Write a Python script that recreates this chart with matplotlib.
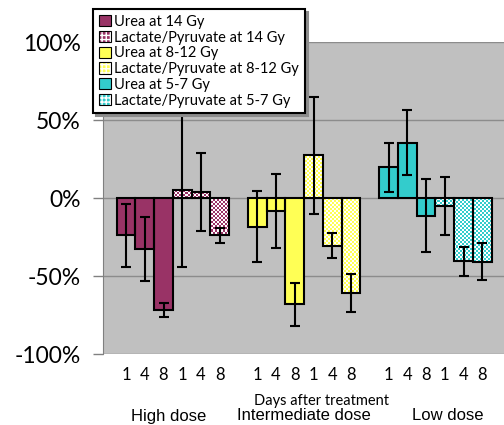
import matplotlib
matplotlib.use("Agg")
import matplotlib.pyplot as plt
import matplotlib.ticker as mtick
import numpy as np

# values, percent change
days = ["1", "4", "8"]
doses = ["High dose", "Intermediate dose", "Low dose"]
labels = ["Urea at 14 Gy", "Lactate/Pyruvate at 14 Gy",
          "Urea at 8-12 Gy", "Lactate/Pyruvate at 8-12 Gy",
          "Urea at 5-7 Gy", "Lactate/Pyruvate at 5-7 Gy"]
urea_14 = [-24, -32.5, -71.5]
urea_14_err = [20.5, 20.5, 4.5]
lp_14 = [5, 4, -24]
lp_14_err = [49.5, 25, 4.7]
urea_812 = [-18.4, -8.3, -68.2]
urea_812_err = [22.6, 23.5, 14]
lp_812 = [27.5, -30.5, -61]
lp_812_err = [37.5, 8, 12]
urea_57 = [19.6, 35.6, -11.3]
urea_57_err = [15.5, 21, 23.5]
lp_57 = [-5, -40.6, -40.7]
lp_57_err = [18.5, 9.5, 11.9]

series = [urea_14, lp_14, urea_812, lp_812, urea_57, lp_57]
errors = [urea_14_err, lp_14_err, urea_812_err, lp_812_err, urea_57_err, lp_57_err]
colors = ["#993366", "#993366", "#FFFF55", "#FFFF55", "#33CCCC", "#33CCCC"]

plt.rcParams["axes.unicode_minus"] = False
plt.rcParams["hatch.color"] = "white"
plt.rcParams["hatch.linewidth"] = 1.0

fig = plt.figure(figsize=(5.04, 4.25), dpi=100)
ax = fig.add_axes([0.2044, 0.167, 0.7956, 0.734])
ax.set_facecolor("#C0C0C0")
xlim = (-1.227, 20.16)
ylim = (-100, 100)

# checkerboard texture, ~2 px cells over the plot area
ny, nx = 156, 200
checker = (np.add.outer(np.arange(ny), np.arange(nx)) % 2).astype(float)

xticks = []
for k, (vals, err, col) in enumerate(zip(series, errors, colors)):
    g = k // 2
    x = 7 * g + 3 * (k % 2) + np.arange(3)
    xticks.extend(x)
    bars = ax.bar(x, vals, width=1.0, color=col, linewidth=0, zorder=2)
    if k % 2:
        rgba = np.zeros((ny, nx, 4))
        rgba[..., :3] = 1.0
        rgba[..., 3] = checker
        for b in bars:
            im = ax.imshow(rgba, extent=(*xlim, *ylim), aspect="auto",
                           interpolation="nearest", zorder=2.5)
            im.set_clip_path(b)
    ax.bar(x, vals, width=1.0, fill=False, edgecolor="black", linewidth=1.5, zorder=3)
    ax.errorbar(x, vals, yerr=err, fmt="none", ecolor="black", elinewidth=1.5,
                capsize=3.5, capthick=1.5, zorder=4)

ax.set_xlim(*xlim)
ax.set_ylim(*ylim)
ax.set_yticks([-100, -50, 0, 50, 100])
ax.yaxis.set_major_formatter(mtick.PercentFormatter(decimals=0))
ax.set_xticks(xticks)
ax.set_xticklabels(days * 6)
ax.tick_params(axis="x", length=0, pad=9, labelsize=12)
ax.tick_params(axis="y", length=7, width=1, color="#808080", pad=9, labelsize=16.5)
for t in ax.get_xticklabels() + ax.get_yticklabels():
    t.set_fontfamily("Lato")
ax.grid(axis="y", color="#8C8C8C", linewidth=1, zorder=0)
ax.set_axisbelow(True)
for s in ["top", "right", "bottom"]:
    ax.spines[s].set_visible(False)
ax.spines["left"].set_color("#808080")

fig.text(322 / 504, 1 - 401 / 425, "Days after treatment", ha="center", va="center",
         fontsize=10.5, family="Lato")
for xpix, d in zip([168.5, 303.5, 447.5], doses):
    fig.text(xpix / 504, 1 - 416 / 425, d, ha="center", va="center",
             fontsize=12, family="Liberation Sans")

leg_handles = []
for k in range(len(labels)):
    if k % 2:
        hp = plt.Rectangle((0, 0), 1, 1, facecolor=colors[k], hatch="++++", linewidth=0)
        ol = plt.Rectangle((0, 0), 1, 1, fill=False, edgecolor="black", linewidth=0.8)
        leg_handles.append((hp, ol))
    else:
        leg_handles.append(plt.Rectangle((0, 0), 1, 1, facecolor=colors[k],
                                         edgecolor="black", linewidth=0.8))

leg = fig.legend(leg_handles, labels, loc="upper left",
                 bbox_to_anchor=(93 / 504, 1 - 9 / 425),
                 prop={"family": "Lato", "size": 10.5}, frameon=True, fancybox=False,
                 shadow={"color": "#8C8C8C", "alpha": 1}, labelspacing=0.12,
                 handlelength=0.8, handleheight=0.8, handletextpad=0.25,
                 borderpad=0.4, borderaxespad=0)
leg.get_frame().set_edgecolor("black")
leg.get_frame().set_linewidth(1.5)
leg.set_zorder(10)

fig.savefig("out.png", dpi=100)
